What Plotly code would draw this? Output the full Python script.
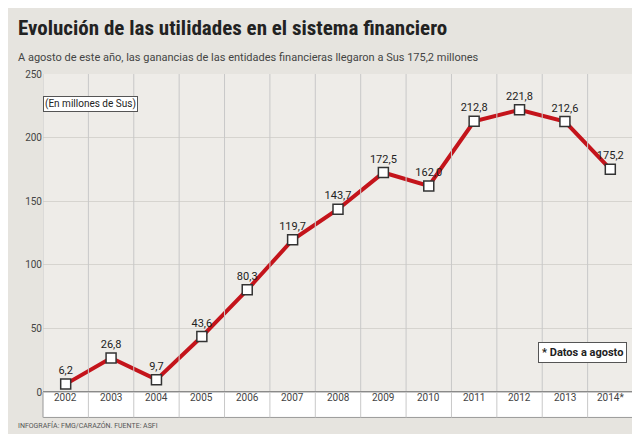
import plotly.graph_objects as go

years = ["2002","2003","2004","2005","2006","2007","2008","2009","2010","2011","2012","2013","2014*"]
values = [6.2, 26.8, 9.7, 43.6, 80.3, 119.7, 143.7, 172.5, 162.0, 212.8, 221.8, 212.6, 175.2]
labels = ["6,2","26,8","9,7","43,6","80,3","119,7","143,7","172,5","162,0","212,8","221,8","212,6","175,2"]
yticks = [0, 50, 100, 150, 200, 250]

x = list(range(len(years)))
fig = go.Figure()
fig.add_trace(go.Scatter(
    x=x, y=values, mode="lines+markers+text", text=labels,
    textposition="top center", textfont=dict(family="Liberation Sans Narrow, Roboto", size=11, color="#222"),
    line=dict(color="#c4141b", width=4),
    marker=dict(symbol="square", size=10, color="white", line=dict(color="#333", width=1.5)),
    cliponaxis=False, showlegend=False))

band = 0.08
shapes = []
for i in range(len(years) + 1):
    shapes.append(dict(type="line", xref="x", yref="paper", x0=i-0.5, x1=i-0.5, y0=-band, y1=1,
                       line=dict(color="#c8c8c8", width=1)))
shapes.append(dict(type="rect", xref="paper", yref="paper", x0=0, x1=1, y0=-band, y1=0,
                   fillcolor="white", line=dict(color="#999", width=1), layer="below"))
shapes.append(dict(type="line", xref="paper", yref="y", x0=0, x1=1, y0=0, y1=0, line=dict(color="#777", width=1.5)))

ann = []
for i, yr in enumerate(years):
    ann.append(dict(x=i, y=-band/2, xref="x", yref="paper", text=yr, showarrow=False,
                    font=dict(family="Liberation Sans Narrow, Roboto", size=10, color="#444")))
ann += [
    dict(x=-0.045, y=1.19, xref="paper", yref="paper", xanchor="left", text="<b>Evolución de las utilidades en el sistema financiero</b>",
         showarrow=False, font=dict(family="Liberation Sans Narrow, Roboto Condensed, Roboto", size=21, color="#222")),
    dict(x=-0.045, y=1.08, xref="paper", yref="paper", xanchor="left",
         text="A agosto de este año, las ganancias de las entidades financieras llegaron a Sus 175,2 millones",
         showarrow=False, font=dict(family="Liberation Sans Narrow, Roboto", size=11, color="#444")),
    dict(x=0.0, y=0.93, xref="paper", yref="paper", xanchor="left", text="(En millones de Sus)", showarrow=False,
         bgcolor="white", bordercolor="#555", borderwidth=1, font=dict(family="Liberation Sans Narrow, Roboto", size=10, color="#222")),
    dict(x=0.99, y=0.09, xref="paper", yref="paper", xanchor="right", text="<b>* Datos a agosto</b>", showarrow=False,
         bgcolor="white", bordercolor="#555", borderwidth=1, borderpad=3, font=dict(family="Liberation Sans Narrow, Roboto", size=11, color="#222")),
    dict(x=-0.045, y=-band - 0.005, xref="paper", yref="paper", xanchor="left", yanchor="top", text="INFOGRAFÍA: FMG/CARAZÓN. FUENTE: ASFI",
         showarrow=False, font=dict(family="Liberation Sans Narrow, Roboto", size=7, color="#555")),
]

fig.update_layout(
    width=640, height=434, margin=dict(l=35, r=15, t=66, b=50),
    paper_bgcolor="#e6e4df", plot_bgcolor="#eeece8",
    xaxis=dict(range=[-0.5, len(years)-0.5], showticklabels=False, showgrid=False, zeroline=False),
    yaxis=dict(range=[0, 250], tickvals=yticks, showgrid=True, gridcolor="#d6d4cf", zeroline=False,
               tickfont=dict(family="Liberation Sans Narrow, Roboto", size=10, color="#444")),
    shapes=shapes, annotations=ann)
fig.write_html("out.html")
